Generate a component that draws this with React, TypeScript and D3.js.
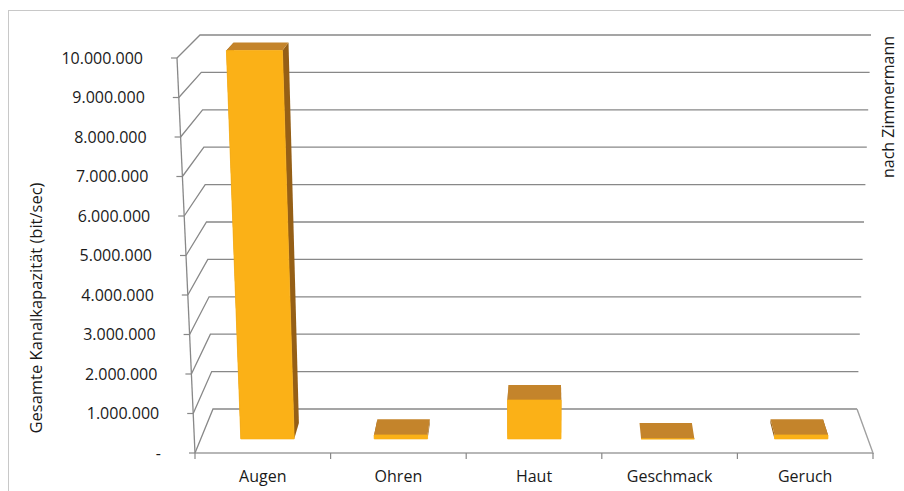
import React from "react";
import * as d3 from "d3";

// data (bit/sec, nach Zimmermann)
const categories = ["Augen", "Ohren", "Haut", "Geschmack", "Geruch"];
const capacity = [10000000, 100000, 1000000, 1000, 100000];
const tickValues = [0, 1000000, 2000000, 3000000, 4000000, 5000000, 6000000, 7000000, 8000000, 9000000, 10000000];

const W = 904;
const H = 491;

// corners of the 3d box in screen space (front / back, bottom / top, left / right)
const FBL = [195, 453], FTL = [177, 58], FBR = [873, 453], FTR = [891, 58];
const BBL = [213, 409], BTL = [200, 35], BBR = [857, 409], BTR = [871, 35];

const lerp = (a: number[], b: number[], t: number) => [a[0] + (b[0] - a[0]) * t, a[1] + (b[1] - a[1]) * t];

// u: across categories, v: value fraction, d: depth (0 front, 1 back)
function P(u: number, v: number, d: number) {
  const front = lerp(lerp(FBL, FBR, u), lerp(FTL, FTR, u), v);
  const back = lerp(lerp(BBL, BBR, u), lerp(BTL, BTR, u), v);
  return lerp(front, back, d);
}

const loc = d3.formatLocale({ decimal: ",", thousands: ".", grouping: [3], currency: ["", "€"] });
const fmt = (v: number) => (v === 0 ? "-" : loc.format(",")(v));

const poly = (pts: number[][]) => "M" + pts.map((p) => p[0].toFixed(1) + "," + p[1].toFixed(1)).join("L") + "Z";

export default function App() {
  const y = d3.scaleLinear().domain([0, 10000000]).range([0, 1]);
  const x = d3.scaleBand().domain(categories).range([0, 1]).paddingInner(0.6).paddingOuter(0.3);
  const slot = d3.scaleBand().domain(categories).range([0, 1]);
  const d0 = 0.32, d1 = 0.68;
  const grid = "#888";
  const font = "'Open Sans', sans-serif";
  const ink = "#1a1a1a";

  return (
    <svg width={W} height={H} style={{ position: "absolute", left: 0, top: 0, background: "#fff" }}>
      <rect x={8.5} y={10.5} width={W} height={H} fill="#fff" stroke="#c8c8c8" />

      {/* side wall diagonals + back wall lines */}
      {tickValues.map((t) => {
        const v = y(t);
        const f = P(0, v, 0), bl = P(0, v, 1), br = P(1, v, 1);
        return (
          <path key={t} d={`M${f[0]},${f[1]}L${bl[0]},${bl[1]}L${br[0]},${br[1]}`} fill="none" stroke={grid} strokeWidth={1.3} />
        );
      })}

      {/* floor */}
      {(() => {
        const a = P(0, 0, 0), b = P(1, 0, 0), c = P(1, 0, 1);
        return <path d={`M${a[0]},${a[1]}L${b[0]},${b[1]}L${c[0]},${c[1]}`} fill="none" stroke="#a0a0a0" strokeWidth={1.4} />;
      })()}
      {categories.concat(["end"]).map((c, i) => {
        const p = P(i / categories.length, 0, 0);
        return <line key={"ct" + i} x1={p[0]} y1={p[1]} x2={p[0]} y2={p[1] + 6} stroke={grid} strokeWidth={1.2} />;
      })}

      {/* value axis */}
      {(() => {
        const a = P(0, 0, 0), b = P(0, 1, 0);
        return <line x1={a[0]} y1={a[1]} x2={b[0]} y2={b[1]} stroke={grid} strokeWidth={1.3} />;
      })()}
      {tickValues.map((t) => {
        const p = P(0, y(t), 0);
        return (
          <g key={"yt" + t}>
            <line x1={p[0] - 6} y1={p[1]} x2={p[0]} y2={p[1]} stroke={grid} strokeWidth={1.2} />
            <text x={p[0] - 34} y={p[1]} dy="0.35em" textAnchor="end" fontFamily={font} fontWeight={500} fontSize={16} fill={ink}>
              {fmt(t)}
            </text>
          </g>
        );
      })}

      {/* bars */}
      {categories.map((c, i) => {
        const u0 = x(c)!, u1 = u0 + x.bandwidth();
        const v = y(capacity[i]);
        const fl0 = P(u0, 0, d0), fr0 = P(u1, 0, d0), fl1 = P(u0, v, d0), fr1 = P(u1, v, d0);
        const bl0 = P(u0, 0, d1), br0 = P(u1, 0, d1), bl1 = P(u0, v, d1), br1 = P(u1, v, d1);
        return (
          <g key={c}>
            <path d={poly([fl0, bl0, bl1, fl1])} fill="#955f16" />
            <path d={poly([fr0, br0, br1, fr1])} fill="#955f16" />
            <path d={poly([fl1, fr1, br1, bl1])} fill="#c4842b" />
            <path d={poly([fl0, fr0, fr1, fl1])} fill="#fbb117" stroke="#fbb117" strokeWidth={0.8} />
          </g>
        );
      })}

      {/* category labels */}
      {categories.map((c) => {
        const p = P(slot(c)! + slot.bandwidth() / 2, 0, 0);
        return (
          <text key={"lb" + c} x={p[0]} y={482} textAnchor="middle" fontFamily={font} fontWeight={500} fontSize={16} fill={ink}>
            {c}
          </text>
        );
      })}

      <text transform="translate(42,308) rotate(-90)" textAnchor="middle" fontFamily={font} fontWeight={500} fontSize={16.5} fill={ink}>
        Gesamte Kanalkapazität (bit/sec)
      </text>
      <text transform="translate(894,107) rotate(-90)" textAnchor="middle" fontFamily={font} fontWeight={500} fontSize={16} fill={ink}>
        nach Zimmermann
      </text>
    </svg>
  );
}
